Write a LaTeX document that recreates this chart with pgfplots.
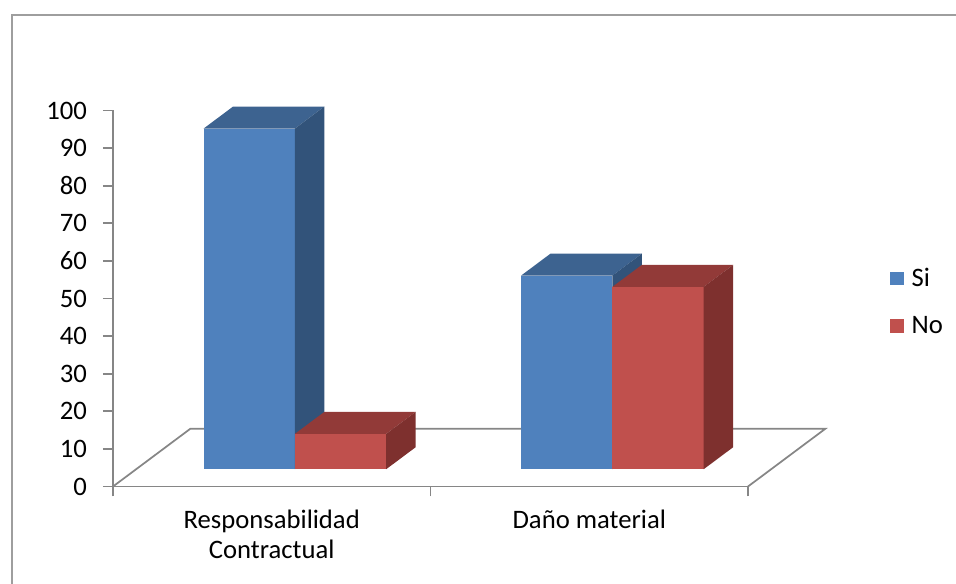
\documentclass[border=0pt]{standalone}
\usepackage{fontspec}
\setmainfont{Carlito}
\usepackage{pgfplots}
\pgfplotsset{compat=1.18}
\definecolor{siF}{RGB}{79,129,189}
\definecolor{siT}{RGB}{61,99,144}
\definecolor{siS}{RGB}{50,83,122}
\definecolor{noF}{RGB}{192,80,77}
\definecolor{noT}{RGB}{146,58,56}
\definecolor{noS}{RGB}{126,48,46}
\definecolor{axgray}{RGB}{134,134,134}
% oblique projection of the floor (axis units) and bar depth band
\def\DX{0.2435}\def\DY{15.35}\def\fz{0.30}\def\fo{0.68}\def\bw{0.2875}
% #1 category centre, #2 series index (0 = Si, 1 = No), #3 value, #4 colour prefix
\newcommand{\cube}[4]{%
  \pgfmathsetmacro{\xa}{#1+(#2-1)*\bw+\fz*\DX}%
  \pgfmathsetmacro{\xb}{#1+#2*\bw+\fz*\DX}%
  \pgfmathsetmacro{\xc}{#1+(#2-1)*\bw+\fo*\DX}%
  \pgfmathsetmacro{\xd}{#1+#2*\bw+\fo*\DX}%
  \pgfmathsetmacro{\ya}{\fz*\DY}%
  \pgfmathsetmacro{\yb}{\fz*\DY+#3}%
  \pgfmathsetmacro{\yc}{\fo*\DY}%
  \pgfmathsetmacro{\yd}{\fo*\DY+#3}%
  \edef\temp{%
    \noexpand\addplot[fill=#4F, draw=none, forget plot] coordinates {(\xa,\ya) (\xb,\ya) (\xb,\yb) (\xa,\yb)};
    \noexpand\addplot[fill=#4T, draw=none, forget plot] coordinates {(\xa,\yb) (\xb,\yb) (\xd,\yd) (\xc,\yd)};
    \noexpand\addplot[fill=#4S, draw=none, forget plot] coordinates {(\xb,\ya) (\xd,\yc) (\xd,\yd) (\xb,\yb)};
  }%
  \temp
}
\begin{document}
\begin{tikzpicture}[x=1pt,y=1pt]
\path[use as bounding box] (0,0) rectangle (717,438);
\draw[axgray!80, line width=0.8pt] (9,-20) -- (9,426.75) -- (740,426.75);
\begin{axis}[
  at={(84.75pt,73.125pt)}, anchor=south west,
  scale only axis, width=476.25pt, height=282pt,
  xmin=0, xmax=2, ymin=0, ymax=100,
  clip=false,
  axis lines=left,
  axis line style={-, axgray, line width=1.3pt},
  tick align=outside,
  major tick length=0pt,
  minor tick length=7.5pt,
  tick style={axgray, line width=1.3pt},
  xtick={0.5,1.5},
  xticklabels={Responsabilidad\\Contractual, Daño material},
  minor xtick={0,1,2},
  ytick={0,10,...,100},
  minor ytick={0,10,...,100},
  xticklabel style={align=center},
  xticklabel shift=14pt,
  yticklabel shift=16pt,
  ticklabel style={font=\fontsize{20}{22.5}\selectfont, black},
  /pgf/number format/assume math mode=true,
  legend image code/.code={\fill[#1] (0pt,-5pt) rectangle (10pt,5pt);},
  legend style={draw=none, fill=none, at={(1.2235,0.491)}, anchor=west,
    font=\fontsize{20}{22.5}\selectfont, row sep=17pt, column sep=4pt, inner sep=0pt},
  legend cell align=left,
]
% floor outline
\addplot[axgray, line width=1.3pt, forget plot] coordinates {(0,0) (\DX,\DY) (2+\DX,\DY) (2,0)};
% bars: Responsabilidad Contractual
\cube{0.5}{0}{90.6}{si}
\cube{0.5}{1}{9.4}{no}
% bars: Daño material
\cube{1.5}{0}{51.5}{si}
\cube{1.5}{1}{48.5}{no}
\addlegendimage{fill=siF, draw=none}
\addlegendentry{Si}
\addlegendimage{fill=noF, draw=none}
\addlegendentry{No}
\end{axis}
\end{tikzpicture}
\end{document}
